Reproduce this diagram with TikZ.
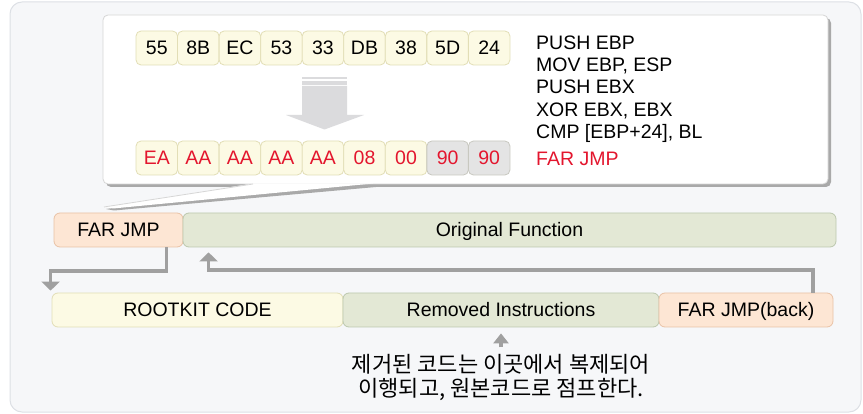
\documentclass[tikz,border=0pt]{standalone}
\usepackage{fontspec}
\setmainfont{Liberation Sans}
\newfontfamily\krfont{Noto Sans CJK KR}
\usetikzlibrary{arrows.meta}
\definecolor{panelF}{HTML}{F6F7F9}
\definecolor{panelD}{HTML}{DDE0E5}
\definecolor{shadowC}{HTML}{A9A9A9}
\definecolor{boxD}{HTML}{D6D6D6}
\definecolor{byteF}{HTML}{FCFAE4}
\definecolor{byteD}{HTML}{E2DEB6}
\definecolor{grayF}{HTML}{E4E4E4}
\definecolor{grayD}{HTML}{C8C8C0}
\definecolor{redT}{HTML}{E3162E}
\definecolor{orF}{HTML}{FDE6D4}
\definecolor{orD}{HTML}{E9C2A6}
\definecolor{grF}{HTML}{E3E8D5}
\definecolor{grD}{HTML}{BCC8AE}
\definecolor{arrC}{HTML}{A0A0A0}
\definecolor{bigArr}{HTML}{DBDBDD}
\begin{document}
\begin{tikzpicture}[x=1pt,y=-1pt,
  txt/.style={font=\fontsize{19.5}{22}\selectfont},
  bytebox/.style={rectangle, rounded corners=5pt, minimum width=41.5pt, minimum height=34pt, inner sep=0pt, text height=14pt, text depth=0pt, fill=byteF, draw=byteD, line width=0.8pt, txt},
  graybyte/.style={bytebox, fill=grayF, draw=grayD},
  bigbox/.style={rectangle, rounded corners=6pt, minimum height=34pt, inner sep=0pt, text height=14pt, text depth=0pt, line width=0.8pt, txt},
  orbox/.style={bigbox, fill=orF, draw=orD},
  grbox/.style={bigbox, fill=grF, draw=grD},
  yebox/.style={bigbox, fill=byteF, draw=byteD},
  instr/.style={anchor=base west, inner sep=0pt, txt},
  conn/.style={draw=arrC, line width=3.6pt, -{Triangle[width=18pt,length=9pt]}},
  smallconn/.style={draw=arrC, line width=3.6pt, -{Triangle[width=15pt,length=10pt]}},
  krtxt/.style={anchor=base, inner sep=0pt, font=\krfont\fontsize{22}{24}\selectfont}
]
\useasboundingbox (0,0) rectangle (863,414);
% outer panel
\draw[fill=panelF, draw=panelD, line width=1pt, rounded corners=12pt] (10,2) rectangle (861,412);
% callout shadow
\fill[shadowC, rounded corners=5pt] (106,18) rectangle (831,187);
\fill[shadowC] (255,187) -- (376,187) -- (114,210.5) -- (106,209) -- cycle;
% callout body
\fill[white, rounded corners=5pt] (103,15) rectangle (828,184);
\draw[boxD, line width=0.8pt, rounded corners=5pt] (103,15) rectangle (828,184);
\fill[white] (253,183.5) -- (373,183.5) -- (113,208.5) -- (104,207) -- cycle;
\draw[boxD, line width=0.8pt] (253,184) -- (104,207);
% big down arrow
\fill[bigArr] (302,77) rectangle (347,79.3);
\fill[bigArr] (302,81) rectangle (347,85);
\fill[bigArr] (302,86) -- (347,86) -- (347,115) -- (364,115) -- (324.5,129.5) -- (286,115) -- (302,115) -- cycle;
% byte rows
\foreach \t [count=\i] in {55,8B,EC,53,33,DB,38,5D,24}
  \node[bytebox] (t\i) at ({136+41.55*(\i-0.5)},48) {\t};
\foreach \t [count=\i] in {EA,AA,AA,AA,AA,08,00}
  \node[bytebox, text=redT] (b\i) at ({136+41.55*(\i-0.5)},158) {\t};
\node[graybyte, text=redT] (b8) at ({136+41.55*7.5},158) {90};
\node[graybyte, text=redT] (b9) at ({136+41.55*8.5},158) {90};
% instructions
\node[instr] (i1) at (536,50) {PUSH EBP};
\node[instr] (i2) at (536,71.5) {MOV EBP, ESP};
\node[instr] (i3) at (536,94) {PUSH EBX};
\node[instr] (i4) at (536,116.5) {XOR EBX, EBX};
\node[instr] (i5) at (536,139) {CMP [EBP+24], BL};
\node[instr, text=redT] (i6) at (536,166) {FAR JMP};
% middle row
\node[orbox, minimum width=129pt] (fj) at (118.5,230) {FAR JMP};
\node[grbox, minimum width=653pt] (of) at (509.5,230) {Original Function};
% bottom row
\node[yebox, minimum width=291pt] (rk) at (197.5,310) {ROOTKIT CODE};
\node[grbox, minimum width=316pt] (ri) at (501,310) {Removed Instructions};
\node[orbox, minimum width=174pt] (fb) at (746,310) {FAR JMP(back)};
% connectors
\draw[conn] ([xshift=-17pt]fj.south east) -- ++(0,23.5) -| ([xshift=-1pt,yshift=2pt]rk.north west);
\draw[conn] ([xshift=-20.5pt]fb.north east) -- ++(0,-22.5) -| ([xshift=26pt,yshift=-5pt]of.south west);
% note
\node[krtxt] (k1) at (501,373) {제거된 코드는 이곳에서 복제되어};
\node[krtxt] (k2) at (501,396) {이행되고, 원본코드로 점프한다.};
\draw[smallconn] ([yshift=-20pt]ri.south) -- ([yshift=-6pt]ri.south);
\end{tikzpicture}
\end{document}
